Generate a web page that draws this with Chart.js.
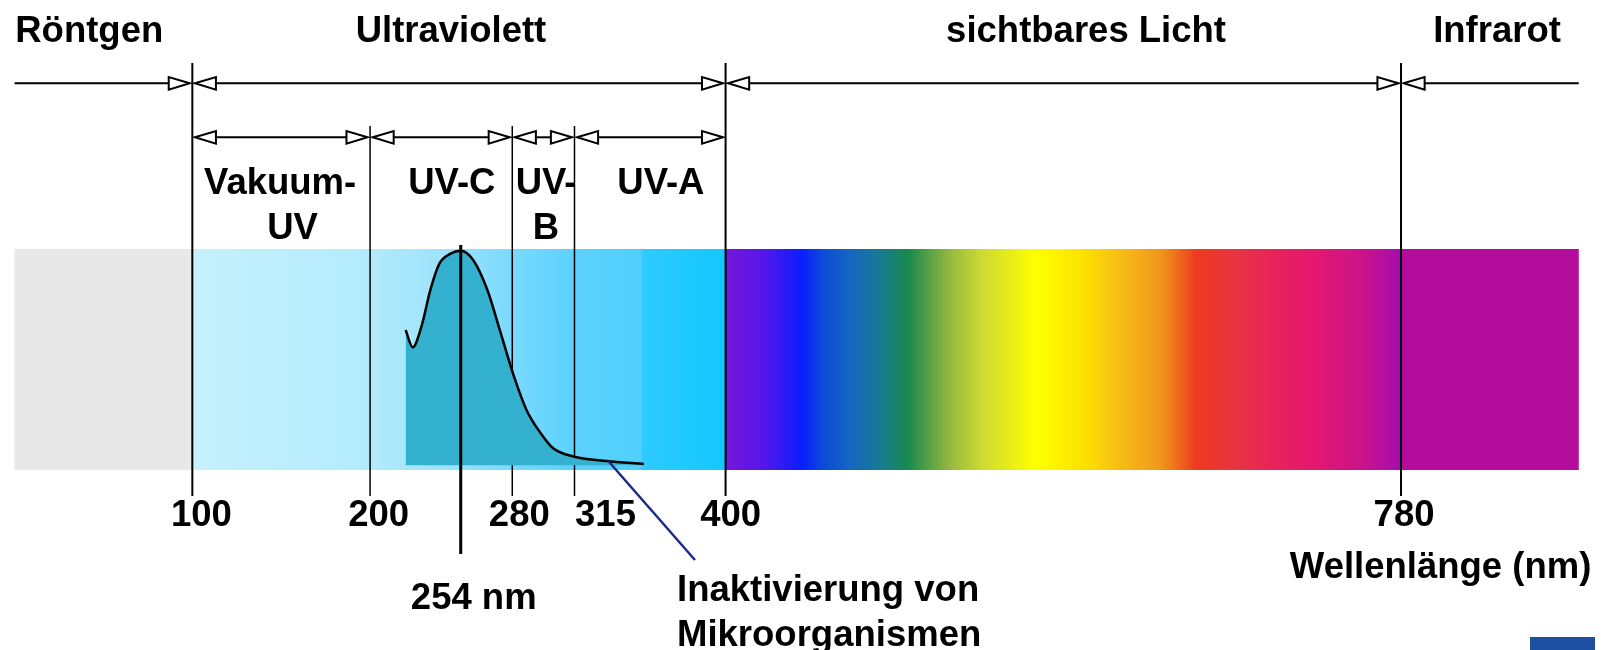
<!DOCTYPE html>
<html><head><meta charset="utf-8">
<style>html,body{margin:0;padding:0;background:#fff;overflow:hidden}#wrap{width:1601px;height:650px}</style>
<script src="https://cdn.jsdelivr.net/npm/chart.js@4.4.1/dist/chart.umd.min.js"></script>
</head><body><div id="wrap"><canvas id="c" width="1601" height="650"></canvas></div>
<script>
// ---------- data ----------
const regionNames = ['Röntgen', 'Ultraviolett', 'sichtbares Licht', 'Infrarot'];
const regionBounds = [0, 100, 400, 780, 880];            // nm
const uvNames = [['Vakuum-', 'UV'], ['UV-C'], ['UV-', 'B'], ['UV-A']];
const uvBounds = [100, 200, 280, 315, 400];               // nm
const tickValues = [100, 200, 280, 315, 400, 780];        // nm
const tickLabels = ['100', '200', '280', '315', '400', '780'];
// relative germicidal (inactivation) efficiency vs wavelength
const curveNm  = [220, 224, 229, 234, 239, 245, 251, 258, 266, 273, 281, 288, 296, 303, 315, 333, 354];
const curveVal = [0.63, 0.55, 0.65, 0.82, 0.94, 0.985, 1.0, 0.957, 0.817, 0.63, 0.413, 0.258, 0.149, 0.079, 0.04, 0.02, 0.006];
const peakLabel = '254 nm';
const curveLabel = ['Inaktivierung von', 'Mikroorganismen'];
const pointerNm = 334;
const axisTitle = 'Wellenlänge (nm)';

// ---------- style / layout ----------
const FONT = 'bold 36.5px "Liberation Sans", Arial, sans-serif';
const spectrumStops = [
  [0,'#e8e8e8'],[100,'#e8e8e8'],[100,'#c6f1fd'],[200,'#b2ebfc'],[250,'#98e2fc'],[280,'#7ad9fc'],
  [315,'#5cd2fc'],[352,'#50cffd'],[354,'#2ccbff'],[400,'#12c8ff'],
  [400,'#7416dc'],[420,'#5a16e8'],[443,'#0a1eff'],[455,'#0c4cd8'],[470,'#1466c0'],[485,'#18789a'],
  [503,'#1a8a4c'],[526,'#94b840'],[545,'#cedc30'],[575,'#ffff00'],[601,'#fce200'],[625,'#f6b818'],
  [645,'#f0961a'],[665,'#ee3a1e'],[686,'#e83440'],[714,'#e62060'],[731,'#e41870'],[761,'#c8128e'],
  [779,'#a40eac'],[780,'#b40c9c'],[880,'#b40c9c']
];
const L = {
  row1Y: 83.3, row2Y: 137.3, majorTop: 63, minorTop: 126, lineBottom: 496,
  bandTop: 249, bandBottom: 470, peakTop: 245, peakBottom: 554,
  tickBaseline: 526, tickDx: [9, 8.5, 7, 31, 5, 3],
  topBaseline: 41.5, topCentersNm: [42, 245.5, 602.8, 834],
  uvBase1: 194, uvBase2: 239, uvCentersNm: [[149.4, 156.4], [246], [299, 299], [363.6]],
  peakLabelDx: 13, peakLabelBase: 609,
  curveLabelX: 677, curveLabelBase: [601, 646], pointerEnd: [695, 560],
  titleX: 1440.6, titleBase: 578,
  arrowLen: 21, arrowHalf: 6.3, arrowGap: 2.6
};

const diagram = {
  id: 'diagram',
  beforeDatasetsDraw(chart) {
    const ctx = chart.ctx, xs = chart.scales.x;
    const px = v => xs.getPixelForValue(v);
    ctx.save();
    // spectrum band
    const x0 = px(regionBounds[0]), x1 = px(regionBounds[regionBounds.length - 1]);
    const g = ctx.createLinearGradient(x0, 0, x1, 0);
    spectrumStops.forEach(([nm, c]) => g.addColorStop((px(nm) - x0) / (x1 - x0), c));
    ctx.fillStyle = g;
    ctx.fillRect(x0, L.bandTop, x1 - x0, L.bandBottom - L.bandTop);
    // boundary lines
    ctx.strokeStyle = '#000';
    const majors = regionBounds.slice(1, -1);
    tickValues.forEach(v => {
      const major = majors.includes(v);
      ctx.lineWidth = major ? 2 : 1.5;
      ctx.beginPath();
      ctx.moveTo(px(v), major ? L.majorTop : L.minorTop);
      ctx.lineTo(px(v), L.lineBottom);
      ctx.stroke();
    });
    // arrows
    const head = (tip, y, dir) => {
      ctx.beginPath();
      ctx.moveTo(tip, y);
      ctx.lineTo(tip - dir * L.arrowLen, y - L.arrowHalf);
      ctx.lineTo(tip - dir * L.arrowLen, y + L.arrowHalf);
      ctx.closePath();
      ctx.fillStyle = '#fff'; ctx.fill(); ctx.stroke();
    };
    const seg = (a, b, y, ha, hb) => {
      ctx.lineWidth = 2;
      const xa = px(a), xb = px(b);
      ctx.beginPath();
      ctx.moveTo(ha ? xa + L.arrowGap + L.arrowLen : xa, y);
      ctx.lineTo(hb ? xb - L.arrowGap - L.arrowLen : xb, y);
      ctx.stroke();
      if (ha) head(xa + L.arrowGap, y, -1);
      if (hb) head(xb - L.arrowGap, y, 1);
    };
    for (let i = 0; i < regionBounds.length - 1; i++)
      seg(regionBounds[i], regionBounds[i + 1], L.row1Y, i > 0, i < regionBounds.length - 2);
    for (let i = 0; i < uvBounds.length - 1; i++)
      seg(uvBounds[i], uvBounds[i + 1], L.row2Y, true, true);
    ctx.restore();
  },
  afterDatasetsDraw(chart) {
    const ctx = chart.ctx, xs = chart.scales.x, ys = chart.scales.y;
    const px = v => xs.getPixelForValue(v);
    ctx.save();
    // peak marker at maximum of curve
    const iMax = curveVal.indexOf(Math.max(...curveVal));
    const xp = px(curveNm[iMax]);
    ctx.strokeStyle = '#000'; ctx.lineWidth = 3;
    ctx.beginPath(); ctx.moveTo(xp, L.peakTop); ctx.lineTo(xp, L.peakBottom); ctx.stroke();
    // pointer
    const iP = curveNm.indexOf(333);
    ctx.strokeStyle = '#1b2a8a'; ctx.lineWidth = 2.5;
    ctx.beginPath();
    ctx.moveTo(px(pointerNm), ys.getPixelForValue(curveVal[iP]));
    ctx.lineTo(L.pointerEnd[0], L.pointerEnd[1]);
    ctx.stroke();
    // texts
    ctx.fillStyle = '#000'; ctx.font = FONT; ctx.textBaseline = 'alphabetic';
    ctx.textAlign = 'center';
    regionNames.forEach((t, i) => ctx.fillText(t, px(L.topCentersNm[i]), L.topBaseline));
    uvNames.forEach((lines, i) => lines.forEach((t, j) =>
      ctx.fillText(t, px(L.uvCentersNm[i][j]), j === 0 ? L.uvBase1 : L.uvBase2)));
    tickValues.forEach((v, i) => ctx.fillText(tickLabels[i], px(v) + L.tickDx[i], L.tickBaseline));
    ctx.fillText(peakLabel, xp + L.peakLabelDx, L.peakLabelBase);
    ctx.fillText(axisTitle, L.titleX, L.titleBase);
    ctx.textAlign = 'left';
    curveLabel.forEach((t, i) => ctx.fillText(t, L.curveLabelX, L.curveLabelBase[i]));
    // slide decoration
    ctx.fillStyle = '#1f4fa0';
    ctx.fillRect(1530, 637, 65, 13);
    ctx.restore();
  }
};

new Chart(document.getElementById('c'), {
  type: 'line',
  data: {
    datasets: [{
      data: curveNm.map((x, i) => ({ x, y: curveVal[i] })),
      borderColor: '#000', borderWidth: 2.5,
      backgroundColor: '#33b1cf', fill: 'origin',
      pointRadius: 0, cubicInterpolationMode: 'monotone'
    }]
  },
  options: {
    responsive: false, animation: false,
    layout: { padding: 0 },
    plugins: { legend: { display: false }, tooltip: { enabled: false }, title: { display: false } },
    scales: {
      x: { type: 'linear', min: -8.2, max: 892.5, display: false },
      y: { type: 'linear', min: -0.8607, max: 2.1682, display: false }
    }
  },
  plugins: [diagram]
});
</script>
</body></html>
